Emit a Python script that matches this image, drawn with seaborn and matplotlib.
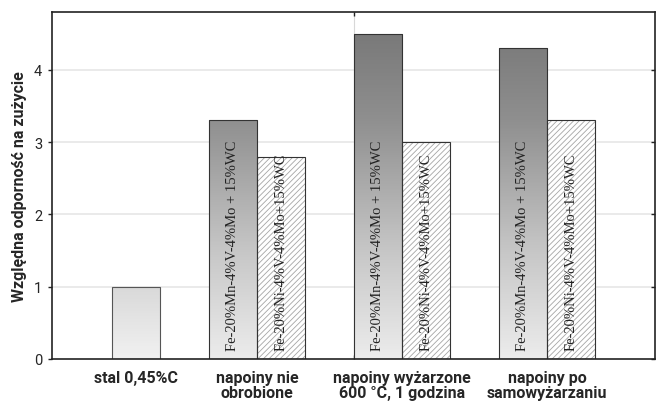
import numpy as np
import pandas as pd
import matplotlib
matplotlib.use("Agg")
import matplotlib.pyplot as plt
import seaborn as sns
from matplotlib.patches import Rectangle
from matplotlib.colors import LinearSegmentedColormap

# ---------------- data ----------------
categories = ["stal 0,45%C", "napoiny nie\nobrobione",
              "napoiny wyżarzone\n600 °C, 1 godzina", "napoiny po\nsamowyżarzaniu"]
series_names = ["stal 0,45%C", "Fe-20%Mn-4%V-4%Mo + 15%WC", "Fe-20%Ni-4%V-4%Mo+15%WC"]
steel_values = [1.0]
mn_values = [3.3, 4.5, 4.3]
ni_values = [2.8, 3.0, 3.3]
y_ticks = [0, 1, 2, 3, 4]
y_label = "Względna odporność na zużycie"

# ---------------- layout ----------------
w = 1 / 3
steel_pos = [0 + w / 2]
mn_pos = [g - w / 2 for g in (1, 2, 3)]
ni_pos = [g + w / 2 for g in (1, 2, 3)]

rows = []
for x, v in zip(steel_pos, steel_values):
    rows.append({"x": x, "value": v, "series": series_names[0]})
for x, v in zip(mn_pos, mn_values):
    rows.append({"x": x, "value": v, "series": series_names[1]})
for x, v in zip(ni_pos, ni_values):
    rows.append({"x": x, "value": v, "series": series_names[2]})
df = pd.DataFrame(rows)

sns.set_style("white")
plt.rcParams["font.family"] = ["Roboto", "DejaVu Sans"]
plt.rcParams["hatch.linewidth"] = 0.6

fig = plt.figure(figsize=(6.59, 4.02), dpi=100)
ax = fig.add_axes([52 / 659, 42 / 402, 603 / 659, 347 / 402])

ymax = 4.8
# grid
for t in y_ticks[1:]:
    ax.axhline(t, color="#e6e6e6", lw=1.2, zorder=0)
ax.axvline(2 - w, color="#d8d8d8", lw=0.8, zorder=0)

sns.barplot(data=df, x="x", y="value", hue="series", native_scale=True,
            dodge=False, width=1.0, legend=False, ax=ax,
            palette=["white", "white", "white"], errorbar=None,
            edgecolor="#333333", linewidth=0.8, zorder=1)

gray_cmap = LinearSegmentedColormap.from_list(
    "g", [(0.0, "#ececec"), (0.3, "#c8c8c8"), (0.69, "#8f8f8f"),
          (0.94, "#797979"), (1.0, "#747474")])
steel_cmap = LinearSegmentedColormap.from_list("s", ["#f1f1f1", "#d9d9d9"])

def nearest(x, arr):
    return min(abs(a - x) for a in arr)

for p in list(ax.patches):
    if not isinstance(p, Rectangle):
        continue
    h = p.get_height()
    if h <= 0 or np.isnan(h):
        continue
    x0 = p.get_x(); x1 = x0 + p.get_width(); xc = (x0 + x1) / 2
    kind = min([(nearest(xc, steel_pos), "s"), (nearest(xc, mn_pos), "m"),
                (nearest(xc, ni_pos), "n")])[1]
    if kind == "m":
        p.set_facecolor("none")
        grad = np.linspace(h, 0, 300)[:, None]
        im = ax.imshow(grad, extent=[x0, x1, 0, h], cmap=gray_cmap, vmin=0, vmax=ymax,
                       aspect="auto", zorder=1.2, interpolation="bilinear")
        im.set_clip_path(p)
        p.set_zorder(2)
        ax.text(xc, 0.13, series_names[1], rotation=90, ha="center", va="bottom",
                family=["Liberation Serif", "DejaVu Serif"], fontsize=10.5,
                color="#222222", zorder=4)
    elif kind == "s":
        p.set_facecolor("none")
        grad = np.linspace(1, 0, 100)[:, None]
        im = ax.imshow(grad, extent=[x0, x1, 0, h], cmap=steel_cmap, vmin=0, vmax=1,
                       aspect="auto", zorder=1.2, interpolation="bilinear")
        im.set_clip_path(p)
        p.set_zorder(2)
        p.set_edgecolor("#555555")
    else:
        p.set_facecolor("white")
        p.set_hatch("//////")
        p.set_edgecolor("#a5a5a5")
        p.set_linewidth(0)
        ax.add_patch(Rectangle((x0, 0), x1 - x0, h, fill=False,
                               edgecolor="#333333", lw=0.8, zorder=2))
        ax.text(xc, 0.13, series_names[2], rotation=90, ha="center", va="bottom",
                family=["Liberation Serif", "DejaVu Serif"], fontsize=10.5,
                color="#222222", zorder=4)

ax.set_xlim(-0.414, 3.745)
ax.set_ylim(0, ymax)
ax.set_yticks(y_ticks)
ax.set_yticklabels([str(t) for t in y_ticks], fontsize=10.5)
ax.set_xticks([steel_pos[0], 1, 2, 3])
ax.set_xticklabels(categories, fontsize=11.5, fontweight="bold", linespacing=1.0)
ax.set_xticks([2 - w], minor=True)
ax.tick_params(axis="x", which="major", length=0, pad=8)
ax.tick_params(axis="x", which="minor", length=3, direction="in", top=True, bottom=True,
               width=1, color="#222222")
ax.tick_params(axis="y", which="major", length=3, direction="out", left=True, pad=4,
               width=1, color="#222222")
ax.tick_params(axis="y", which="major", right=True)
for t in ax.yaxis.get_major_ticks():
    t.tick2line.set_marker(matplotlib.markers.TICKLEFT)
    t.tick2line.set_markersize(3)

ax.set_xlabel("")
ax.set_ylabel(y_label, fontsize=11.5, fontweight="bold", labelpad=5)

for s in ax.spines.values():
    s.set_visible(True)
    s.set_color("#222222")
    s.set_linewidth(1.2)

fig.savefig("out.png", dpi=100)
